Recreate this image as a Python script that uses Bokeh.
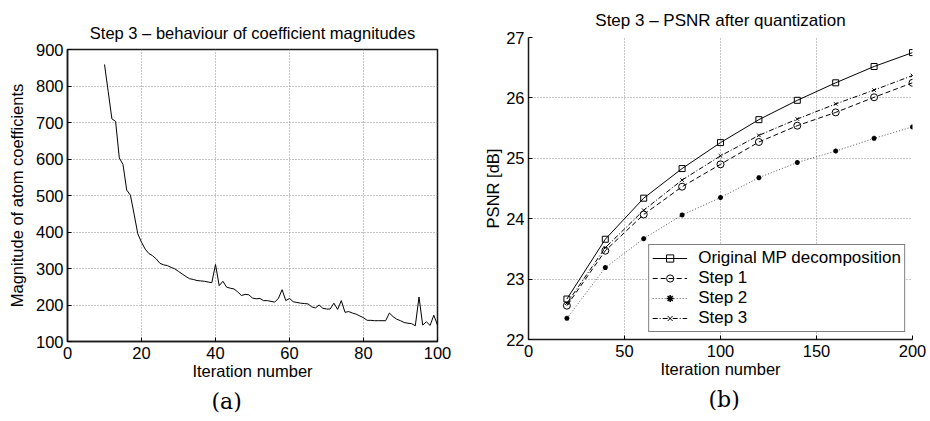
from bokeh.plotting import figure
from bokeh.layouts import row, column
from bokeh.models import FixedTicker, Title
from bokeh.embed import file_html
from bokeh.resources import INLINE

FONT = "Liberation Sans"

# ---------------- Panel (a) data ----------------
iter_a = list(range(10, 101))
mag_a = [859, 785, 710, 703, 603, 585, 515, 501, 449, 395,
         372, 353, 341, 335, 326, 314, 310, 308, 303, 299,
         292, 285, 278, 272, 270, 267, 266, 265, 263, 261,
         311, 253, 265, 249, 246, 244, 236, 226, 229, 228,
         219, 217, 218, 212, 212, 210, 208, 218, 242, 212,
         218, 209, 207, 205, 204, 203, 195, 192, 200, 191,
         189, 189, 205, 188, 212, 180, 182, 178, 175, 170,
         165, 158, 158, 157, 157, 157, 157, 178, 168, 161,
         157, 152, 150, 149, 143, 222, 145, 154, 144, 172,
         145]
xticks_a = [0, 20, 40, 60, 80, 100]
yticks_a = [100, 200, 300, 400, 500, 600, 700, 800, 900]

# ---------------- Panel (b) data ----------------
iter_b = [20, 40, 60, 80, 100, 120, 140, 160, 180, 200]
psnr_orig = [22.67, 23.66, 24.34, 24.83, 25.26, 25.64, 25.96, 26.25, 26.52, 26.75]
psnr_step1 = [22.56, 23.47, 24.07, 24.53, 24.90, 25.27, 25.54, 25.76, 26.01, 26.25]
psnr_step2 = [22.35, 23.19, 23.67, 24.06, 24.35, 24.68, 24.93, 25.12, 25.33, 25.52]
psnr_step3 = [22.60, 23.52, 24.14, 24.64, 25.04, 25.38, 25.65, 25.90, 26.13, 26.37]
xticks_b = [0, 50, 100, 150, 200]
yticks_b = [22, 23, 24, 25, 26, 27]


def style(p, xticks, yticks, xlabel, ylabel, ylabel_standoff):
    p.xaxis.ticker = FixedTicker(ticks=xticks)
    p.yaxis.ticker = FixedTicker(ticks=yticks)
    for ax in (p.xaxis, p.yaxis):
        ax.axis_line_color = "#1a1a1a"
        ax.axis_line_width = 1.5
        ax.major_tick_in = 4
        ax.major_tick_out = 0
        ax.major_tick_line_color = "black"
        ax.minor_tick_line_color = None
        ax.major_label_text_font = FONT
        ax.major_label_text_font_size = "16.5px"
        ax.major_label_text_color = "black"
        ax.axis_label_text_font = FONT
        ax.axis_label_text_font_size = "16.5px"
        ax.axis_label_text_font_style = "normal"
        ax.axis_label_text_color = "black"
    p.xaxis.axis_label = xlabel
    p.yaxis.axis_label = ylabel
    p.xaxis.major_label_standoff = 5
    p.yaxis.major_label_standoff = 4
    p.xaxis.axis_label_standoff = 0
    p.yaxis.axis_label_standoff = ylabel_standoff
    p.grid.grid_line_color = "#8c8c8c"
    p.grid.grid_line_dash = "1 2"
    p.grid.grid_line_width = 1
    p.background_fill_color = "white"
    p.border_fill_color = "white"


def add_titles(p, top_text, top_size, top_standoff, caption, caption_offset):
    p.title.text = top_text
    p.title.align = "center"
    p.title.text_font = FONT
    p.title.text_font_size = top_size
    p.title.text_font_style = "normal"
    p.title.text_color = "black"
    p.title.standoff = top_standoff
    cap = Title(text=caption, align="left", offset=caption_offset,
                text_font="DejaVu Serif", text_font_size="22px",
                text_font_style="normal", text_color="black", standoff=8)
    p.add_layout(cap, "below")


# ---------------- Figure (a) ----------------
pa = figure(width=465, height=421, x_range=(0, 100), y_range=(100, 900),
            output_backend="svg", toolbar_location=None,
            min_border_left=67, min_border_right=28,
            min_border_top=49, min_border_bottom=80)
style(pa, xticks_a, yticks_a, "Iteration number",
      "Magnitude of atom coefficients", 7)
pa.outline_line_color = "#1a1a1a"
pa.outline_line_width = 1.5
pa.outline_line_alpha = 1
pa.line(iter_a, mag_a, line_color="black", line_width=1)
add_titles(pa, "Step 3 \u2013 behaviour of coefficient magnitudes", "16.5px", 16,
           "(a)", 144)

# ---------------- Figure (b) ----------------
pb = figure(width=465, height=421, x_range=(0, 200), y_range=(22, 27),
            output_backend="svg", toolbar_location=None,
            min_border_left=63, min_border_right=18,
            min_border_top=36, min_border_bottom=82)
style(pb, xticks_b, yticks_b, "Iteration number", "PSNR [dB]", 1)
pb.outline_line_color = None

pb.line(iter_b, psnr_orig, line_color="black", line_width=1,
        legend_label="Original MP decomposition")
pb.scatter(iter_b, psnr_orig, marker="square", size=6, fill_color=None,
           line_color="black", line_width=1,
           legend_label="Original MP decomposition")

pb.line(iter_b, psnr_step1, line_color="black", line_width=1,
        line_dash="5 3", legend_label="Step 1")
pb.scatter(iter_b, psnr_step1, marker="circle", size=7, fill_color=None,
           line_color="black", line_width=1, legend_label="Step 1")

pb.line(iter_b, psnr_step2, line_color="#555555", line_width=1,
        line_dash="1 2", legend_label="Step 2")
pb.scatter(iter_b, psnr_step2, marker="asterisk", size=5, fill_color=None,
           line_color="black", line_width=1.5, legend_label="Step 2")

pb.line(iter_b, psnr_step3, line_color="black", line_width=1,
        line_dash="5 2 1 2", legend_label="Step 3")
pb.scatter(iter_b, psnr_step3, marker="x", size=5, fill_color=None,
           line_color="black", line_width=1, legend_label="Step 3")

lg = pb.legend[0]
lg.location = "bottom_right"
lg.margin = 7
lg.padding = 3
lg.spacing = 0
lg.label_height = 18
lg.glyph_height = 18
lg.glyph_width = 35
lg.label_standoff = 11
lg.label_text_font = FONT
lg.label_text_font_size = "17px"
lg.label_text_color = "black"
lg.border_line_color = "black"
lg.border_line_width = 1.5
lg.background_fill_color = "white"
lg.background_fill_alpha = 1

add_titles(pb, "Step 3 \u2013 PSNR after quantization", "17px", 16, "(b)", 180)

layout = row(column(pa), column(pb))
open("out.html", "w").write(file_html(layout, INLINE))
